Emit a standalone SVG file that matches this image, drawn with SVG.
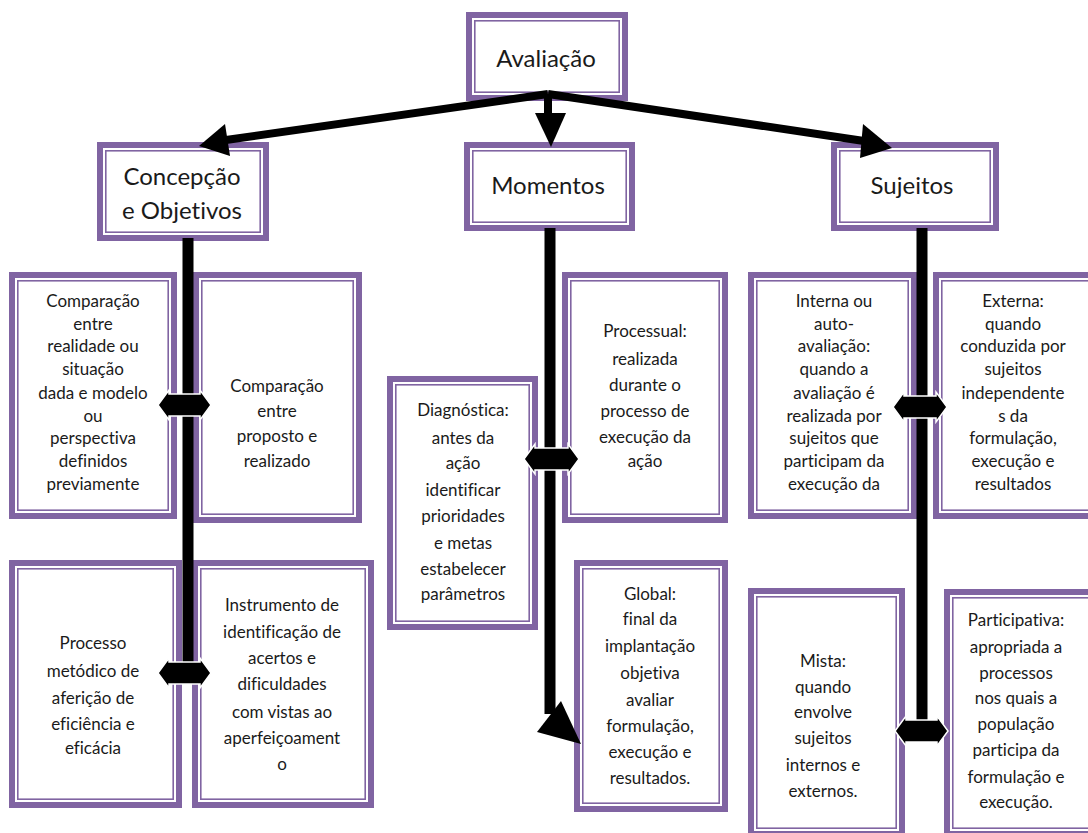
<svg xmlns="http://www.w3.org/2000/svg" width="1088" height="833" viewBox="0 0 1088 833">
<style>
.bo{fill:#fff;stroke:#8064a2;stroke-width:6}
.bl{fill:none;stroke:#8064a2;stroke-width:1.6}
.h{font-family:Lato,"Liberation Sans",sans-serif;font-size:24px;fill:#1a1a1a;text-anchor:middle;dominant-baseline:central;font-variant-ligatures:none}
.t{font-family:Lato,"Liberation Sans",sans-serif;font-size:17px;fill:#1a1a1a;text-anchor:middle;dominant-baseline:central;font-variant-ligatures:none}
.ln{stroke:#000;stroke-width:8;fill:none}
.vl{stroke:#000;stroke-width:11;fill:none}
.ah{fill:#000}
.da{fill:#000;stroke:#fff;stroke-width:1.5}
</style>
<rect width="1088" height="833" fill="#fff"/>

<g id="n-avaliacao">
<rect class="bo" x="469" y="15" width="156" height="83"/>
<rect class="bl" x="474.8" y="20.8" width="144.4" height="71.4"/>
<text class="h" x="546" y="57">Avaliação</text>
</g>
<g id="n-concepcao">
<rect class="bo" x="100" y="145" width="166" height="93"/>
<rect class="bl" x="105.8" y="150.8" width="154.4" height="81.4"/>
<text class="h" x="182" y="175">Concepção</text>
<text class="h" x="182" y="209">e Objetivos</text>
</g>
<g id="n-momentos">
<rect class="bo" x="467" y="145" width="165" height="83"/>
<rect class="bl" x="472.8" y="150.8" width="153.4" height="71.4"/>
<text class="h" x="548" y="184">Momentos</text>
</g>
<g id="n-sujeitos">
<rect class="bo" x="834" y="145" width="162" height="83"/>
<rect class="bl" x="839.8" y="150.8" width="150.4" height="71.4"/>
<text class="h" x="912" y="184">Sujeitos</text>
</g>

<g id="n-c1">
<rect class="bo" x="12" y="275" width="162" height="241"/>
<rect class="bl" x="17.8" y="280.8" width="150.4" height="229.4"/>
<text class="t" x="93"><tspan x="93" y="300">Comparação</tspan><tspan x="93" y="323">entre</tspan><tspan x="93" y="345">realidade ou</tspan><tspan x="93" y="368">situação</tspan><tspan x="93" y="392">dada e modelo</tspan><tspan x="93" y="415">ou</tspan><tspan x="93" y="437">perspectiva</tspan><tspan x="93" y="460">definidos</tspan><tspan x="93" y="483">previamente</tspan></text>
</g>
<g id="n-c2">
<rect class="bo" x="196" y="275" width="163" height="245"/>
<rect class="bl" x="201.8" y="280.8" width="151.4" height="233.4"/>
<text class="t" x="277"><tspan x="277" y="385">Comparação</tspan><tspan x="277" y="410">entre</tspan><tspan x="277" y="435">proposto e</tspan><tspan x="277" y="460">realizado</tspan></text>
</g>
<g id="n-c3">
<rect class="bo" x="12" y="563" width="167" height="242"/>
<rect class="bl" x="17.8" y="568.8" width="155.4" height="230.4"/>
<text class="t" x="93"><tspan x="93" y="642">Processo</tspan><tspan x="93" y="670">metódico de</tspan><tspan x="93" y="697">aferição de</tspan><tspan x="93" y="723">eficiência e</tspan><tspan x="93" y="747">eficácia</tspan></text>
</g>
<g id="n-c4">
<rect class="bo" x="195" y="563" width="176" height="242"/>
<rect class="bl" x="200.8" y="568.8" width="164.4" height="230.4"/>
<text class="t" x="282"><tspan x="282" y="604">Instrumento de</tspan><tspan x="282" y="631">identificação de</tspan><tspan x="282" y="657">acertos e</tspan><tspan x="282" y="683">dificuldades</tspan><tspan x="282" y="711">com vistas ao</tspan><tspan x="282" y="737">aperfeiçoament</tspan><tspan x="282" y="763">o</tspan></text>
</g>

<g id="n-m1">
<rect class="bo" x="390" y="379" width="145" height="248"/>
<rect class="bl" x="395.8" y="384.8" width="133.4" height="236.4"/>
<text class="t" x="463"><tspan x="463" y="409">Diagnóstica:</tspan><tspan x="463" y="437">antes da</tspan><tspan x="463" y="462">ação</tspan><tspan x="463" y="489">identificar</tspan><tspan x="463" y="515">prioridades</tspan><tspan x="463" y="542">e metas</tspan><tspan x="463" y="568">estabelecer</tspan><tspan x="463" y="593">parâmetros</tspan></text>
</g>
<g id="n-m2">
<rect class="bo" x="565" y="275" width="160" height="245"/>
<rect class="bl" x="570.8" y="280.8" width="148.4" height="233.4"/>
<text class="t" x="645"><tspan x="645" y="330">Processual:</tspan><tspan x="645" y="358">realizada</tspan><tspan x="645" y="384">durante o</tspan><tspan x="645" y="410">processo de</tspan><tspan x="645" y="436">execução da</tspan><tspan x="645" y="460">ação</tspan></text>
</g>
<g id="n-m3">
<rect class="bo" x="577" y="563" width="148" height="246"/>
<rect class="bl" x="582.8" y="568.8" width="136.4" height="234.4"/>
<text class="t" x="650"><tspan x="650" y="593">Global:</tspan><tspan x="650" y="618">final da</tspan><tspan x="650" y="645">implantação</tspan><tspan x="650" y="672">objetiva</tspan><tspan x="650" y="699">avaliar</tspan><tspan x="650" y="725">formulação,</tspan><tspan x="650" y="751">execução e</tspan><tspan x="650" y="777">resultados.</tspan></text>
</g>

<g id="n-s1">
<rect class="bo" x="751" y="275" width="163" height="241"/>
<rect class="bl" x="756.8" y="280.8" width="151.4" height="229.4"/>
<text class="t" x="834"><tspan x="834" y="300">Interna ou</tspan><tspan x="834" y="323">auto-</tspan><tspan x="834" y="345">avaliação:</tspan><tspan x="834" y="368">quando a</tspan><tspan x="834" y="392">avaliação é</tspan><tspan x="834" y="415">realizada por</tspan><tspan x="834" y="437">sujeitos que</tspan><tspan x="834" y="460">participam da</tspan><tspan x="834" y="483">execução da</tspan></text>
</g>
<g id="n-s2">
<rect class="bo" x="936" y="275" width="160" height="241"/>
<rect class="bl" x="941.8" y="280.8" width="148.4" height="229.4"/>
<text class="t" x="1013"><tspan x="1013" y="300">Externa:</tspan><tspan x="1013" y="323">quando</tspan><tspan x="1013" y="345">conduzida por</tspan><tspan x="1013" y="368">sujeitos</tspan><tspan x="1013" y="392">independente</tspan><tspan x="1013" y="415">s da</tspan><tspan x="1013" y="437">formulação,</tspan><tspan x="1013" y="460">execução e</tspan><tspan x="1013" y="483">resultados</tspan></text>
</g>
<g id="n-s3">
<rect class="bo" x="751" y="591" width="151" height="243"/>
<rect class="bl" x="756.8" y="596.8" width="139.4" height="231.4"/>
<text class="t" x="823"><tspan x="823" y="660">Mista:</tspan><tspan x="823" y="686">quando</tspan><tspan x="823" y="711">envolve</tspan><tspan x="823" y="737">sujeitos</tspan><tspan x="823" y="764">internos e</tspan><tspan x="823" y="790">externos.</tspan></text>
</g>
<g id="n-s4">
<rect class="bo" x="947" y="592" width="150" height="242"/>
<rect class="bl" x="952.8" y="597.8" width="138.4" height="230.4"/>
<text class="t" x="1016"><tspan x="1016" y="619">Participativa:</tspan><tspan x="1016" y="646">apropriada a</tspan><tspan x="1016" y="672">processos</tspan><tspan x="1016" y="697">nos quais a</tspan><tspan x="1016" y="723">população</tspan><tspan x="1016" y="749">participa da</tspan><tspan x="1016" y="776">formulação e</tspan><tspan x="1016" y="801">execução.</tspan></text>
</g>

<g id="connectors">
<line class="ln" x1="548" y1="94" x2="226" y2="140"/>
<polygon class="ah" points="199,146 225,124 230,156"/>
<line class="ln" x1="548" y1="94" x2="548" y2="116"/>
<polygon class="ah" points="535,113 566,113 551,147"/>
<line class="ln" x1="548" y1="94" x2="864" y2="141"/>
<polygon class="ah" points="892,148 863,124 860,158"/>

<line class="vl" x1="188" y1="238" x2="188" y2="684"/>
<line class="vl" x1="550" y1="228" x2="550" y2="714"/>
<polygon class="ah" points="537,732 561,701 581,744"/>
<line class="vl" x1="922" y1="228" x2="922" y2="736"/>

<polygon class="da" points="158,405 169,390 169,394 200,394 200,390 211,405 200,420 200,416 169,416 169,420"/>
<polygon class="da" points="158,673 169,658 169,662 200,662 200,658 211,673 200,688 200,684 169,684 169,688"/>
<polygon class="da" points="524,459 535,444 535,448 568,448 568,444 579,459 568,474 568,470 535,470 535,474"/>
<polygon class="da" points="893,407 904,392 904,396 936,396 936,392 947,407 936,422 936,418 904,418 904,422"/>
<polygon class="da" points="895,731 906,716 906,720 937,720 937,716 948,731 937,746 937,742 906,742 906,746"/>
</g>
</svg>
